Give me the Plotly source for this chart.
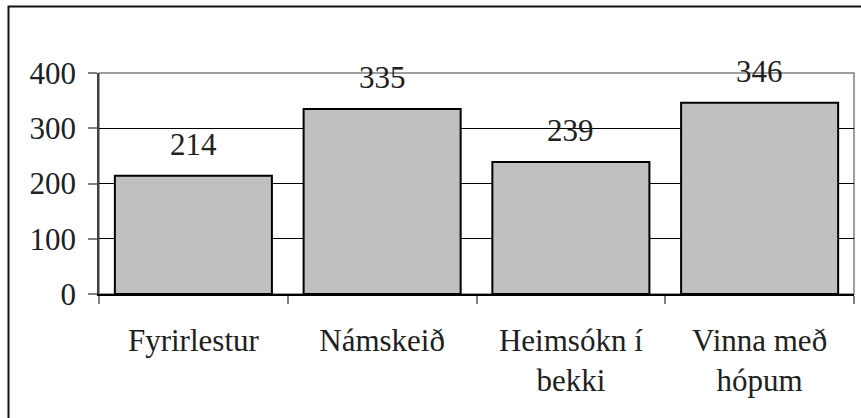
import plotly.graph_objects as go

# Categories (multi-line labels) and their counts
categories = ["Fyrirlestur", "Námskeið", "Heimsókn í<br>bekki", "Vinna með<br>hópum"]
values = [214, 335, 239, 346]
y_ticks = [0, 100, 200, 300, 400]

W, H = 861, 418
L, R, T, B = 99, 7, 73, 124
pw, ph = W - L - R, H - T - B

SERIF = "Liberation Serif, Tinos, Times New Roman, serif"
INK = "#202020"


def serif_font(size=31):
    return dict(family=SERIF, size=size, color=INK)


fig = go.Figure()
fig.add_trace(go.Bar(
    x=categories,
    y=values,
    marker=dict(color="#C0C0C0", line=dict(color="black", width=2)),
    hoverinfo="skip",
))

# Value labels above each bar
for c, v in zip(categories, values):
    fig.add_annotation(x=c, y=v, text=str(v), showarrow=False,
                       yanchor="bottom", yshift=12, font=serif_font())


def px_x(p):
    return (p - L) / pw


def px_y(p):
    return (H - B - p) / ph


# Outer frame of the chart
fig.add_shape(type="rect", xref="paper", yref="paper",
              x0=px_x(8.5), x1=px_x(W + 20), y0=px_y(H + 20), y1=px_y(6.5),
              line=dict(color="#111111", width=2), layer="above")

# Plot area border (grey)
fig.add_shape(type="rect", xref="paper", yref="paper",
              x0=0, x1=1, y0=0, y1=1,
              line=dict(color="#808080", width=1.5), layer="below")

fig.update_layout(
    width=W, height=H,
    margin=dict(l=L, r=R, t=T, b=B),
    paper_bgcolor="white", plot_bgcolor="white",
    bargap=0.168,
    showlegend=False,
    font=serif_font(),
)
fig.update_xaxes(
    type="category",
    showline=True, linecolor="black", linewidth=1.5,
    ticks="outside", tickson="boundaries", ticklen=8, tickcolor="#808080", tickwidth=1.5,
    tickfont=serif_font(), showgrid=False, ticklabelstandoff=18,
)
fig.update_yaxes(
    range=[0, 400], tickvals=y_ticks,
    showline=True, linecolor="#404040", linewidth=1.5,
    ticks="outside", ticklen=9, tickcolor="#808080", tickwidth=1.5,
    showgrid=True, gridcolor="black", gridwidth=1,
    tickfont=serif_font(), zeroline=False, ticklabelstandoff=6,
)

fig.write_html("out.html")
